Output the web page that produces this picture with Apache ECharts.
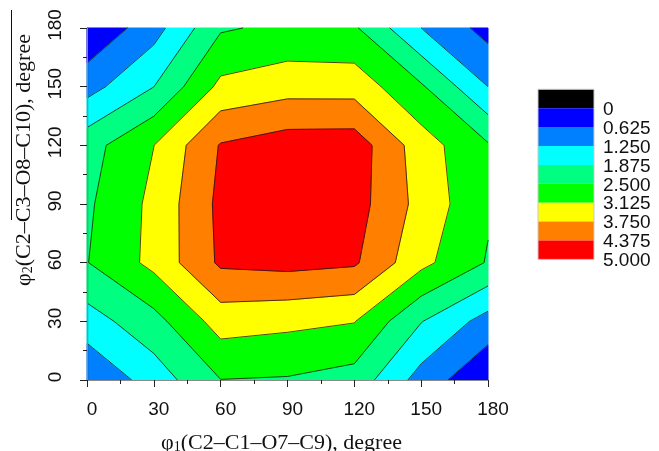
<!DOCTYPE html>
<html>
<head>
<meta charset="utf-8">
<script src="https://cdn.jsdelivr.net/npm/echarts@6/dist/echarts.min.js"></script>
<style>
  html, body { margin: 0; padding: 0; background: #fff; }
  #chart { width: 659px; height: 451px; }
</style>
</head>
<body>
<div id="chart"></div>
<script>
// grid nodes (degrees) for both dihedral angles
const phi = [0, 30, 60, 90, 120, 150, 180]

// energy, one row per phi2 value, columns are phi1 = 0..180
const e_phi2_0   = [0.66, 1.54, 2.49, 2.45, 2.25, 1.00, 0.06]
const e_phi2_30  = [1.60, 2.28, 3.40, 3.28, 3.15, 1.90, 1.00]
const e_phi2_60  = [2.48, 3.30, 4.48, 4.57, 4.46, 3.30, 2.45]
const e_phi2_90  = [2.40, 3.28, 4.53, 4.90, 4.64, 3.54, 2.58]
const e_phi2_120 = [2.25, 3.12, 4.42, 4.70, 4.72, 3.42, 2.56]
const e_phi2_150 = [1.01, 1.87, 3.28, 3.50, 3.49, 2.58, 1.25]
const e_phi2_180 = [0.05, 1.00, 2.43, 2.64, 2.58, 1.25, 0.40]

const levels = [0, 0.625, 1.25, 1.875, 2.5, 3.125, 3.75, 4.375, 5.0]
const levelLabels = ['0', '0.625', '1.250', '1.875', '2.500', '3.125', '3.750', '4.375', '5.000']
const bandColors = ['#0000ff', '#0080ff', '#00ffff', '#00ff80', '#00ff00', '#ffff00', '#ff8000', '#ff0000']
const legendColors = ['#000000'].concat(bandColors)

const energy = [e_phi2_0, e_phi2_30, e_phi2_60, e_phi2_90, e_phi2_120, e_phi2_150, e_phi2_180]

// one item per grid cell: corners and their values
const cells = []
for (let j = 0; j < phi.length - 1; j++) {
  for (let i = 0; i < phi.length - 1; i++) {
    cells.push([
      phi[i], phi[j], phi[i + 1], phi[j + 1],
      energy[j][i], energy[j][i + 1], energy[j + 1][i + 1], energy[j + 1][i]
    ])
  }
}

function corners(api) {
  const x0 = api.value(0), y0 = api.value(1), x1 = api.value(2), y1 = api.value(3)
  return {
    pts: [[x0, y0], [x1, y0], [x1, y1], [x0, y1]],
    vals: [api.value(4), api.value(5), api.value(6), api.value(7)]
  }
}

function edgePoint(p, q, s) {
  return [p[0] + (q[0] - p[0]) * s, p[1] + (q[1] - p[1]) * s]
}

// part of the cell where lo <= value < hi, walking the cell outline
function bandPolygon(c, lo, hi) {
  const out = []
  for (let a = 0; a < 4; a++) {
    const b = (a + 1) % 4
    const va = c.vals[a], vb = c.vals[b]
    if (va >= lo && va < hi) out.push(c.pts[a])
    const hits = []
    ;[lo, hi].forEach(t => {
      if (isFinite(t) && (va >= t) !== (vb >= t)) hits.push((t - va) / (vb - va))
    })
    hits.sort((m, n) => m - n).forEach(s => out.push(edgePoint(c.pts[a], c.pts[b], s)))
  }
  return out
}

function isoSegments(c, t) {
  const xs = []
  for (let a = 0; a < 4; a++) {
    const b = (a + 1) % 4
    const va = c.vals[a], vb = c.vals[b]
    if ((va >= t) !== (vb >= t)) {
      xs.push({ pt: edgePoint(c.pts[a], c.pts[b], (t - va) / (vb - va)), exit: va >= t })
    }
  }
  const segs = []
  for (let k = 0; k < xs.length; k++) {
    if (xs[k].exit) segs.push([xs[k].pt, xs[(k + 1) % xs.length].pt])
  }
  return segs
}

function renderFill(params, api) {
  const c = corners(api)
  const children = []
  for (let k = 0; k < bandColors.length; k++) {
    const hi = k === bandColors.length - 1 ? Infinity : levels[k + 1]
    const poly = bandPolygon(c, levels[k], hi)
    if (poly.length < 3) continue
    children.push({
      type: 'polygon',
      shape: { points: poly.map(p => api.coord(p)) },
      style: { fill: bandColors[k], stroke: bandColors[k], lineWidth: 1, lineJoin: 'round' }
    })
  }
  return { type: 'group', children: children }
}

function renderLines(params, api) {
  const c = corners(api)
  const children = []
  for (let k = 1; k < bandColors.length; k++) {
    isoSegments(c, levels[k]).forEach(s => {
      const p = api.coord(s[0]), q = api.coord(s[1])
      children.push({
        type: 'line',
        shape: { x1: p[0], y1: p[1], x2: q[0], y2: q[1] },
        style: { stroke: '#1c1c1c', lineWidth: 0.8 }
      })
    })
  }
  return { type: 'group', children: children }
}

const chart = echarts.init(document.getElementById('chart'))

const tickFont = { fontFamily: 'Liberation Sans, Arial, sans-serif', fontSize: 19, color: '#111' }
const serif = 'Liberation Serif, Times New Roman, serif'

// legend boxes
const legendGraphics = []
const boxX = 538, boxTop = 89.3, boxW = 56, boxH = 18.9
legendColors.forEach((col, i) => {
  legendGraphics.push({
    type: 'rect',
    shape: { x: boxX, y: boxTop + i * boxH, width: boxW, height: boxH },
    style: { fill: col }
  })
})
legendGraphics.push({
  type: 'rect',
  shape: { x: boxX, y: boxTop, width: boxW, height: boxH * legendColors.length },
  style: { fill: 'none', stroke: '#c8c8c8', lineWidth: 1 }
})
levelLabels.forEach((lab, i) => {
  legendGraphics.push({
    type: 'text',
    x: 603,
    y: boxTop + (i + 1) * boxH + 1.5,
    style: {
      text: lab,
      font: '19px "Liberation Sans", Arial, sans-serif',
      fill: '#111',
      textAlign: 'left',
      textVerticalAlign: 'middle'
    }
  })
})

const option = {
  animation: false,
  backgroundColor: '#fff',
  grid: { left: 87, right: 171, top: 28, bottom: 71, outerBoundsMode: 'none' },
  xAxis: [
    {
      type: 'value',
      min: 0,
      max: 180,
      interval: 30,
      z: 10,
      axisLine: { show: true, lineStyle: { color: '#222', width: 1.2 } },
      axisTick: { show: true, inside: false, length: 7, lineStyle: { color: '#222' } },
      minorTick: { show: true, splitNumber: 2, length: 4, lineStyle: { color: '#222' } },
      splitLine: { show: false },
      axisLabel: Object.assign({ margin: 20, padding: [0, 0, 0, 10] }, tickFont),
      name: '{a|φ}{s|1}{a|(C2–C1–O7–C9), degree}',
      nameLocation: 'middle',
      nameGap: 52,
      nameTextStyle: {
        padding: [0, 12, 0, 0],
        rich: {
          a: { fontFamily: serif, fontSize: 22, color: '#111' },
          s: { fontFamily: serif, fontSize: 14, color: '#111', verticalAlign: 'bottom', padding: [8, 0, 0, 0] }
        }
      }
    },
    {
      type: 'value',
      position: 'top',
      min: 0,
      max: 180,
      z: 10,
      axisLine: { show: true, lineStyle: { color: '#8a8a8a', width: 1 } },
      axisTick: { show: false },
      axisLabel: { show: false },
      splitLine: { show: false }
    }
  ],
  yAxis: [
    {
      type: 'value',
      min: 0,
      max: 180,
      interval: 30,
      z: 10,
      axisLine: { show: true, lineStyle: { color: '#222', width: 1.2 } },
      axisTick: { show: true, inside: false, length: 7, lineStyle: { color: '#222' } },
      minorTick: { show: true, splitNumber: 2, length: 4, lineStyle: { color: '#222' } },
      splitLine: { show: false },
      axisLabel: Object.assign({ rotate: 90, margin: 22, padding: [0, 0, 0, 6] }, tickFont)
    },
    {
      type: 'value',
      position: 'right',
      min: 0,
      max: 180,
      z: 10,
      axisLine: { show: true, lineStyle: { color: '#8a8a8a', width: 1 } },
      axisTick: { show: false },
      axisLabel: { show: false },
      splitLine: { show: false }
    }
  ],
  graphic: legendGraphics.concat([
    {
      type: 'text',
      x: 24,
      y: 160,
      rotation: Math.PI / 2,
      style: {
        text: '{a|φ}{s|2}{a|(C2–C3–O8–C10), degree}',
        textAlign: 'center',
        textVerticalAlign: 'middle',
        rich: {
          a: { fontFamily: serif, fontSize: 22, fill: '#111' },
          s: { fontFamily: serif, fontSize: 14, fill: '#111', verticalAlign: 'bottom', padding: [8, 0, 0, 0] }
        }
      }
    },
    {
      type: 'line',
      shape: { x1: 11.5, y1: 10, x2: 11.5, y2: 220 },
      style: { stroke: '#111', lineWidth: 1 }
    }
  ]),
  series: [
    {
      type: 'custom',
      name: 'fill',
      coordinateSystem: 'cartesian2d',
      renderItem: renderFill,
      encode: { x: [0, 2], y: [1, 3] },
      data: cells,
      z: 2,
      silent: true
    },
    {
      type: 'custom',
      name: 'contours',
      coordinateSystem: 'cartesian2d',
      renderItem: renderLines,
      encode: { x: [0, 2], y: [1, 3] },
      data: cells,
      z: 3,
      silent: true
    }
  ]
}

chart.setOption(option)
</script>
</body>
</html>
